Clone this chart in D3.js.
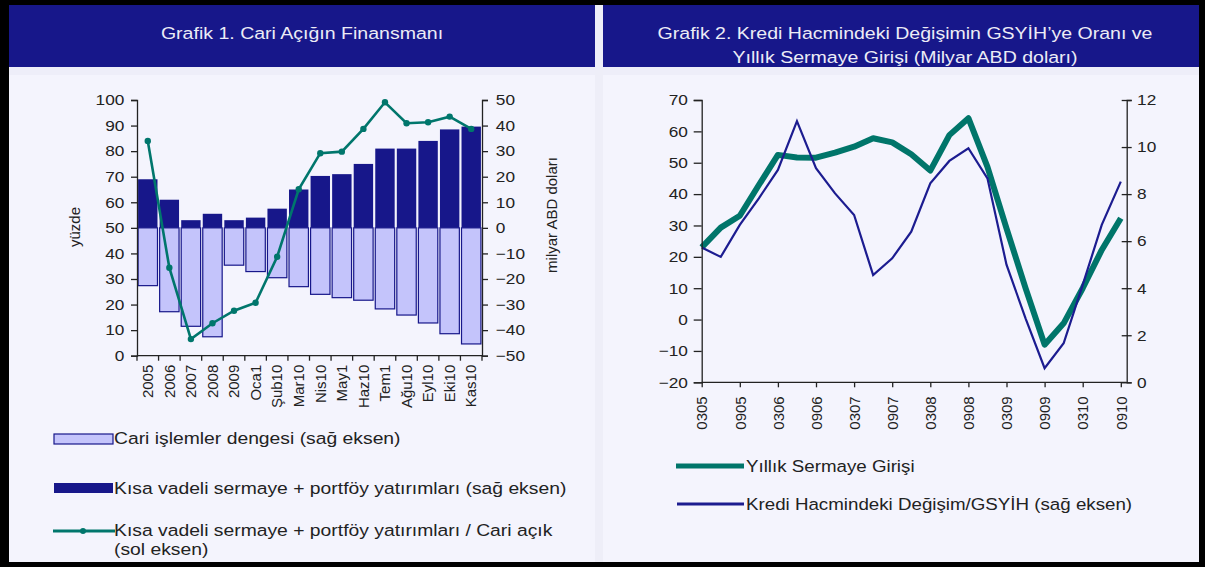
<!DOCTYPE html>
<html>
<head>
<meta charset="utf-8">
<script src="https://cdn.jsdelivr.net/npm/d3@7"></script>
<style>
  body { margin: 0; background: #000; }
  svg { display: block; font-family: "Liberation Sans", Arial, sans-serif; }
</style>
</head>
<body>
<div id="graphics"></div>
<script>
var width = 1205, height = 567;

// Grafik 1 data
var aylar = ['2005','2006','2007','2008','2009','Oca1','Şub10','Mar10','Nis10','May1','Haz10','Tem1','Ağu10','Eyl10','Eki10','Kas10'];
var cariDenge = [-22.6,-32.8,-38.5,-42.6,-14.6,-17.1,-19.5,-23,-26,-27.3,-28.3,-31.7,-34.1,-37.2,-41.4,-45.4];
var kisaVadeli = [19,11,3,5.5,3,4,7.5,15,20.3,21,25,31,31,34,38.5,39.6];
var oran = [84,34.4,6.5,12.7,17.6,20.7,38.7,65.1,79.2,79.8,88.7,99.1,90.9,91.3,93.5,88.7];

// Grafik 2 data (quarterly)
var ceyrekler = ['0305','0605','0905','1205','0306','0606','0906','1206','0307','0607','0907','1207',
                 '0308','0608','0908','1208','0309','0609','0909','1209','0310','0610','0910'];
var sermaye = [23,29.3,33.1,42.9,52.5,51.7,51.6,53.2,55.1,57.8,56.5,52.7,47.5,58.8,64.2,48.7,29.1,10,-8,-1.2,10,22.2,32.3];
var kredi = [5.73,5.33,6.69,7.82,9.03,11.1,9.1,8.03,7.11,4.56,5.27,6.4,8.46,9.41,9.95,8.67,5.0,2.72,0.6,1.66,4.14,6.69,8.53];
var etiketler = ['0305','0905','0306','0906','0307','0907','0308','0908','0309','0909','0310','0910'];

var navy = '#17178a', light = '#c4c4fb', teal = '#00766c', axisCol = '#222';
var stretch = 'scale(1.15,1)';

var svg = d3.select('#graphics').append('svg')
    .attr('width', width).attr('height', height);

// frame + background
svg.append('rect').attr('width', width).attr('height', height).attr('fill', '#000');
svg.append('rect').attr('x', 9).attr('y', 5).attr('width', 1190).attr('height', 557).attr('fill', '#f4f4fd');
svg.append('rect').attr('x', 9).attr('y', 67).attr('width', 1190).attr('height', 8).attr('fill', '#eeeef9');
svg.append('rect').attr('x', 595).attr('y', 5).attr('width', 8).attr('height', 557).attr('fill', '#eeeef8');
svg.append('rect').attr('x', 9).attr('y', 5).attr('width', 586).attr('height', 62).attr('fill', navy);
svg.append('rect').attr('x', 603).attr('y', 5).attr('width', 596).attr('height', 62).attr('fill', navy);

function label(x, y, txt, size, anchor, fill) {
  return svg.append('text')
    .attr('transform', 'translate(' + [x, y] + ') ' + stretch)
    .attr('text-anchor', anchor || 'start')
    .style('font-size', size + 'px')
    .attr('fill', fill || '#222')
    .text(txt);
}

label(302, 39, 'Grafik 1. Cari Açığın Finansmanı', 17, 'middle', '#ececf6');
label(905, 39, 'Grafik 2. Kredi Hacmindeki Değişimin GSYİH’ye Oranı ve', 17, 'middle', '#ececf6');
label(905, 63, 'Yıllık Sermaye Girişi (Milyar ABD doları)', 17, 'middle', '#ececf6');

function styleAxis(g) {
  g.selectAll('path, line').attr('stroke', axisCol).attr('stroke-width', 1.3);
  g.selectAll('text').style('font-size', '15px').attr('fill', '#222');
}

// ---------- Grafik 1 ----------
var x1 = d3.scaleBand().domain(aylar).range([137, 482]).paddingInner(0.1).paddingOuter(0.05);
var yL1 = d3.scaleLinear().domain([0, 100]).range([355.7, 100]);
var yR1 = d3.scaleLinear().domain([-50, 50]).range([355.7, 100]);

var bars = svg.append('g');
bars.selectAll('rect.cari').data(aylar).enter().append('rect')
    .attr('x', d => x1(d))
    .attr('width', x1.bandwidth())
    .attr('y', yR1(0))
    .attr('height', (d, i) => yR1(cariDenge[i]) - yR1(0))
    .attr('fill', light)
    .attr('stroke', navy)
    .attr('stroke-width', 1.2);
bars.selectAll('rect.kisa').data(aylar).enter().append('rect')
    .attr('x', d => x1(d))
    .attr('width', x1.bandwidth())
    .attr('y', (d, i) => yR1(kisaVadeli[i]))
    .attr('height', (d, i) => yR1(0) - yR1(kisaVadeli[i]))
    .attr('fill', navy);

var line1 = d3.line().x((d, i) => x1(aylar[i]) + x1.bandwidth() / 2).y(d => yL1(d));
svg.append('path').datum(oran).attr('d', line1)
    .attr('fill', 'none').attr('stroke', teal).attr('stroke-width', 2.6);
svg.selectAll('circle.oran').data(oran).enter().append('circle')
    .attr('cx', (d, i) => x1(aylar[i]) + x1.bandwidth() / 2)
    .attr('cy', d => yL1(d))
    .attr('r', 3.2).attr('fill', teal);

var gl1 = svg.append('g').attr('transform', 'translate(137,0)')
    .call(d3.axisLeft(yL1).tickValues(d3.range(0, 101, 10)).tickSize(6).tickPadding(5));
styleAxis(gl1);
gl1.selectAll('text').attr('transform', stretch);
var gr1 = svg.append('g').attr('transform', 'translate(482,0)')
    .call(d3.axisRight(yR1).tickValues(d3.range(-50, 51, 10)).tickSize(6).tickPadding(6));
styleAxis(gr1);
gr1.selectAll('text').attr('transform', stretch);

// x axis: ticks at band borders, labels rotated
var gx1 = svg.append('g').attr('transform', 'translate(0,355.7)')
    .call(d3.axisBottom(x1).tickSize(0).tickPadding(8));
styleAxis(gx1);
gx1.select('.domain').attr('d', 'M137,0H482');
gx1.selectAll('.tick text')
    .attr('transform', 'rotate(-90)')
    .attr('text-anchor', 'end')
    .attr('x', -9).attr('y', 0).attr('dy', '0.35em');
var stepX = 345 / aylar.length;
gx1.selectAll('line.sinir').data(d3.range(aylar.length + 1)).enter().append('line')
    .attr('class', 'sinir')
    .attr('x1', i => 137 + i * stepX)
    .attr('x2', i => 137 + i * stepX)
    .attr('y1', 0).attr('y2', 5)
    .attr('stroke', axisCol).attr('stroke-width', 1.3);

svg.append('text').attr('transform', 'translate(80,227) rotate(-90)')
    .attr('text-anchor', 'middle').style('font-size', '15px').attr('fill', '#222').text('yüzde');
svg.append('text').attr('transform', 'translate(557,215) rotate(-90)')
    .attr('text-anchor', 'middle').style('font-size', '15px').attr('fill', '#222').text('milyar ABD doları');

// legend 1
svg.append('rect').attr('x', 54).attr('y', 434).attr('width', 59).attr('height', 10)
    .attr('fill', light).attr('stroke', navy).attr('stroke-width', 1.2);
label(114, 444, 'Cari işlemler dengesi (sağ eksen)', 16.8);
svg.append('rect').attr('x', 54).attr('y', 483).attr('width', 59).attr('height', 10).attr('fill', navy);
label(114, 494, 'Kısa vadeli sermaye + portföy yatırımları (sağ eksen)', 16.8);
svg.append('line').attr('x1', 53).attr('x2', 115).attr('y1', 531).attr('y2', 531)
    .attr('stroke', teal).attr('stroke-width', 3);
svg.append('circle').attr('cx', 83).attr('cy', 531).attr('r', 3).attr('fill', teal);
label(114, 536, 'Kısa vadeli sermaye + portföy yatırımları / Cari açık', 16.8);
label(114, 555, '(sol eksen)', 16.8);

// ---------- Grafik 2 ----------
var x2 = d3.scalePoint().domain(ceyrekler).range([701.7, 1120.8]);
var yL2 = d3.scaleLinear().domain([-20, 70]).range([382.3, 100]);
var yR2 = d3.scaleLinear().domain([0, 12]).range([382.3, 100]);

svg.append('path').datum(sermaye)
    .attr('d', d3.line().x((d, i) => x2(ceyrekler[i])).y(d => yL2(d)))
    .attr('fill', 'none').attr('stroke', '#00756a').attr('stroke-width', 6)
    .attr('stroke-linejoin', 'round');
svg.append('path').datum(kredi)
    .attr('d', d3.line().x((d, i) => x2(ceyrekler[i])).y(d => yR2(d)))
    .attr('fill', 'none').attr('stroke', '#1c1c90').attr('stroke-width', 2.2);

var gl2 = svg.append('g').attr('transform', 'translate(701.7,0)')
    .call(d3.axisLeft(yL2).tickValues(d3.range(-20, 71, 10)).tickSize(8).tickPadding(4));
styleAxis(gl2);
gl2.selectAll('text').attr('transform', stretch);
var gr2 = svg.append('g').attr('transform', 'translate(1126.7,0)')
    .call(d3.axisRight(yR2).tickValues(d3.range(0, 13, 2)).tickSize(5).tickPadding(4));
styleAxis(gr2);
gr2.selectAll('.tick line').attr('x1', -5);
gr2.selectAll('text').attr('transform', stretch);

var gx2 = svg.append('g').attr('transform', 'translate(0,382.3)')
    .call(d3.axisBottom(x2).tickValues(etiketler).tickSize(5).tickPadding(8));
styleAxis(gx2);
gx2.select('.domain').attr('d', 'M701.7,0H1126.7');
gx2.selectAll('.tick text')
    .attr('transform', 'rotate(-90)')
    .attr('text-anchor', 'end')
    .attr('x', -14).attr('y', 0).attr('dy', '0.35em');

// legend 2
svg.append('line').attr('x1', 676).attr('x2', 744).attr('y1', 466).attr('y2', 466)
    .attr('stroke', '#00756a').attr('stroke-width', 5);
label(746, 472, 'Yıllık Sermaye Girişi', 16.3);
svg.append('line').attr('x1', 677).attr('x2', 744).attr('y1', 504).attr('y2', 504)
    .attr('stroke', '#1c1c90').attr('stroke-width', 3);
label(746, 510, 'Kredi Hacmindeki Değişim/GSYİH (sağ eksen)', 16.3);
</script>
</body>
</html>
